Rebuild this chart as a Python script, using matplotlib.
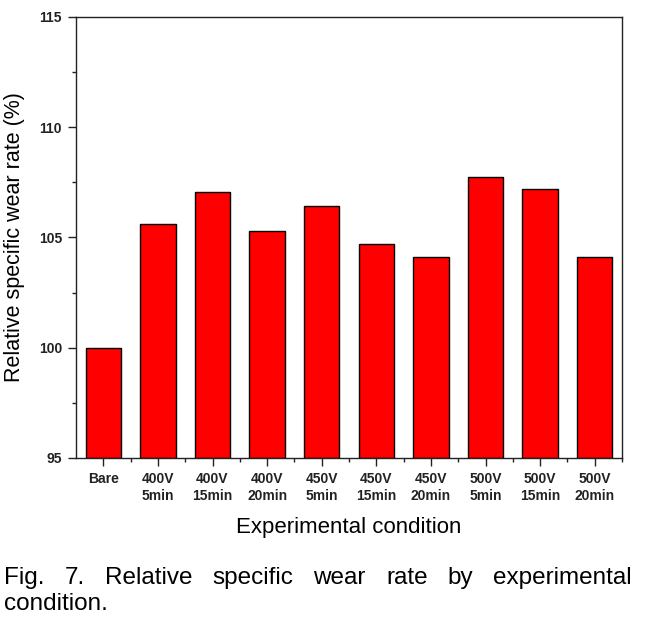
import matplotlib.pyplot as plt
from matplotlib.ticker import MultipleLocator, FixedLocator

plt.rcParams['font.family'] = ['Liberation Sans', 'DejaVu Sans']

conditions = ['Bare', '400V\n5min', '400V\n15min', '400V\n20min', '450V\n5min',
              '450V\n15min', '450V\n20min', '500V\n5min', '500V\n15min', '500V\n20min']
wear_rate = [100.0, 105.6, 107.05, 105.3, 106.45, 104.7, 104.12, 107.75, 107.18, 104.12]

caption_line1 = ['Fig.', '7.', 'Relative', 'specific', 'wear', 'rate', 'by', 'experimental']
caption_line2 = 'condition.'

W, H = 649, 624
fig = plt.figure(figsize=(W / 100, H / 100), dpi=100)
ax = fig.add_axes([76 / W, 1 - 458 / H, (622 - 76) / W, (458 - 17) / H])

pos = list(range(1, len(conditions) + 1))
ax.bar(pos, [v - 95 for v in wear_rate], bottom=95, width=0.65,
       color='#ff0000', edgecolor='black', linewidth=1.0)

ax.set_xlim(0.5, len(conditions) + 0.5)
ax.set_ylim(95, 115)
ax.set_xticks(pos)
ax.set_xticklabels(conditions, fontsize=10, fontweight='bold', linespacing=1.3)
ax.xaxis.set_minor_locator(FixedLocator([p + 0.5 for p in pos]))
ax.yaxis.set_major_locator(MultipleLocator(5))
ax.yaxis.set_minor_locator(MultipleLocator(2.5))
for lab in ax.get_yticklabels():
    lab.set_fontweight('bold')
    lab.set_fontsize(10)

ax.tick_params(which='major', direction='out', length=6, width=1, pad=4, colors='#222222')
ax.tick_params(which='minor', direction='out', length=3, width=1, colors='#222222')
ax.tick_params(top=False, right=False)
for s in ax.spines.values():
    s.set_linewidth(1.0)
    s.set_color('#222222')

ax.set_xlabel('Experimental condition', fontsize=16, labelpad=10)
ax.set_ylabel('Relative specific wear rate (%)', fontsize=15.5, labelpad=10)

# caption: first line justified between x=4 and x=632 like the original
cap_kw = dict(fontsize=17.5, va='baseline', ha='left')
words = [fig.text(0, 1 - 584 / H, w, **cap_kw) for w in caption_line1]
fig.canvas.draw()
r = fig.canvas.get_renderer()
widths = [t.get_window_extent(r).width for t in words]
gap = (632 - 4 - sum(widths)) / (len(words) - 1)
x = 4
for t, w in zip(words, widths):
    t.set_x(x / W)
    x += w + gap
fig.text(4 / W, 1 - 610 / H, caption_line2, **cap_kw)

fig.savefig('out.png', dpi=100)
